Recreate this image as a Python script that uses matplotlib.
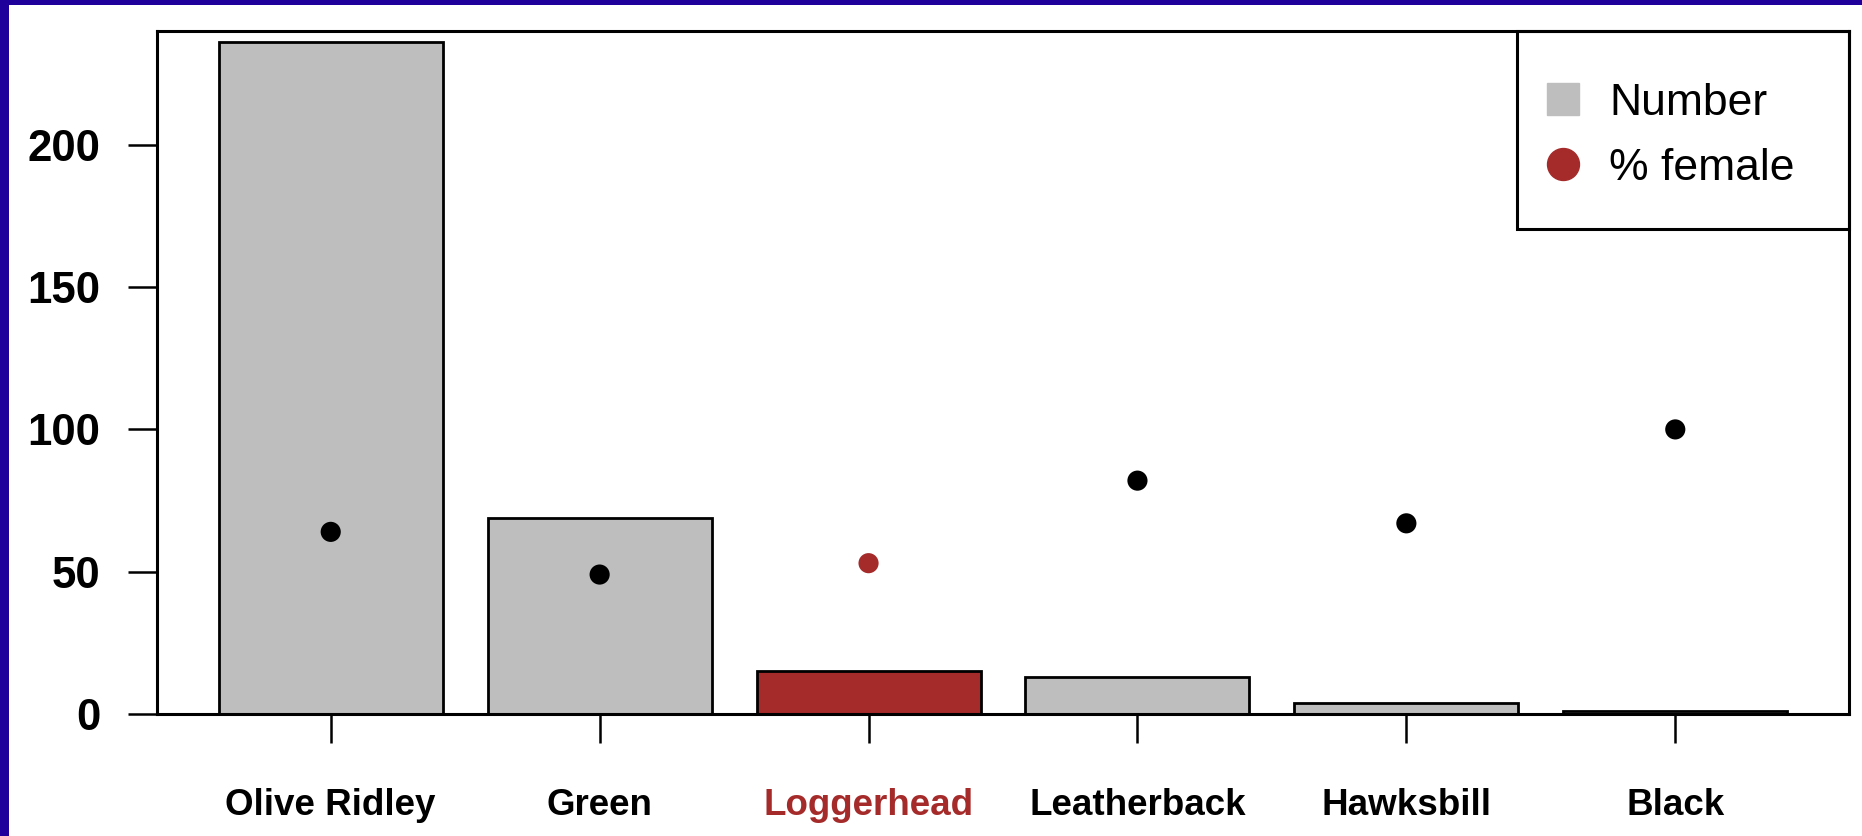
import matplotlib
matplotlib.use("Agg")
import matplotlib.pyplot as plt
from matplotlib.lines import Line2D
from matplotlib.patches import Rectangle

species = ["Olive Ridley", "Green", "Loggerhead", "Leatherback", "Hawksbill", "Black"]
number = [236, 69, 15, 13, 4, 1]
pct_female = [64, 49, 53, 82, 67, 100]
yticks = [0, 50, 100, 150, 200]

GRAY = "#BEBEBE"
RED = "#A52A2A"
highlight = "Loggerhead"
bar_colors = [RED if s == highlight else GRAY for s in species]
pt_colors = [RED if s == highlight else "black" for s in species]

plt.rcParams["font.family"] = ["Liberation Sans", "DejaVu Sans"]

W, H = 1862, 836
fig = plt.figure(figsize=(W / 100, H / 100), dpi=100, facecolor="white")

# blue frame strips (left and top)
fig.patches.append(Rectangle((0, 0), 9 / W, 1, transform=fig.transFigure,
                             facecolor="#20009A", edgecolor="none", zorder=0))
fig.patches.append(Rectangle((0, 1 - 5 / H), 1, 5 / H, transform=fig.transFigure,
                             facecolor="#20009A", edgecolor="none", zorder=0))

left, right, top, bottom = 157, 1849, 31, 714
ax = fig.add_axes([left / W, 1 - bottom / H, (right - left) / W, (bottom - top) / H])

x = list(range(len(species)))
ax.bar(x, number, width=0.833, color=bar_colors, edgecolor="black", linewidth=2.0, zorder=2)
ax.scatter(x, pct_female, s=14.5 ** 2, c=pt_colors, edgecolors="none", zorder=3)

ax.set_xlim(-0.646, 5.646)
ax.set_ylim(0, 240)
ax.set_yticks(yticks)
ax.set_yticklabels([str(v) for v in yticks], fontsize=31.5, fontweight="bold")
ax.set_xticks(x)
ax.set_xticklabels(species, fontsize=26.5, fontweight="bold")
for lab, s in zip(ax.get_xticklabels(), species):
    if s == highlight:
        lab.set_color(RED)

ax.tick_params(axis="y", length=21, width=1.8, pad=20, direction="out")
ax.tick_params(axis="x", length=21, width=1.8, pad=32, direction="out")
for sp in ax.spines.values():
    sp.set_linewidth(2.2)
    sp.set_color("black")

# legend (frame drawn separately)
handles = [
    Line2D([], [], linestyle="none", marker="s", markersize=23, color=GRAY, label="Number"),
    Line2D([], [], linestyle="none", marker="o", markersize=23, color=RED, label="% female"),
]
leg = ax.legend(handles=handles, loc="upper left", bbox_to_anchor=(0.829, 0.9245),
                borderaxespad=0, borderpad=0, fontsize=32, frameon=False,
                labelspacing=0.54, handlelength=0.15, handletextpad=0.97)
ax.add_patch(Rectangle((0.804, 0.710), 0.196, 0.290, transform=ax.transAxes,
                       facecolor="none", edgecolor="black", linewidth=2.2,
                       clip_on=False, zorder=5))

fig.savefig("out.png", dpi=100, facecolor="white")
